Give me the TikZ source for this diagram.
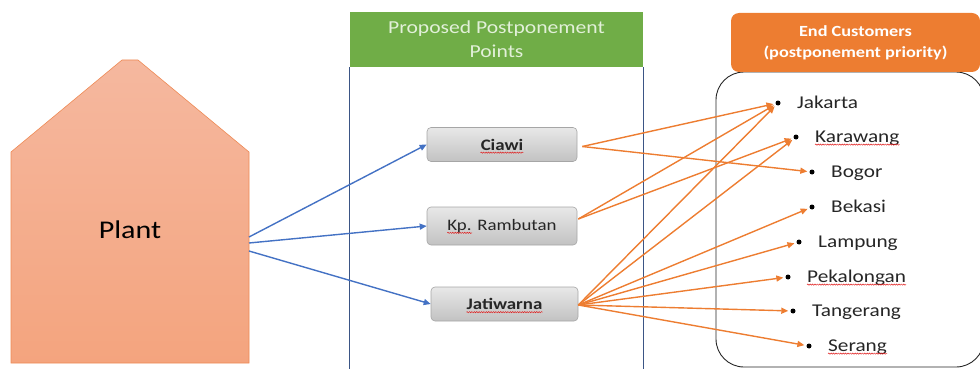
\documentclass[tikz,border=0pt]{standalone}
\usepackage{fontspec}
\setmainfont{Carlito}[FakeStretch=1.18]
\usetikzlibrary{positioning,arrows.meta,calc,decorations.pathmorphing}
\definecolor{plantTop}{HTML}{F5B89F}
\definecolor{plantBot}{HTML}{F4A47E}
\definecolor{plantLine}{HTML}{EE8A55}
\definecolor{greenHead}{HTML}{70AD47}
\definecolor{greenText}{HTML}{E2F0D9}
\definecolor{warm}{HTML}{ED7D31}
\definecolor{accent}{HTML}{4472C4}
\definecolor{hubTop}{HTML}{E8E8E8}
\definecolor{hubBot}{HTML}{C2C2C2}
\definecolor{hubLine}{HTML}{A6A6A6}
\definecolor{colLine}{HTML}{3B5585}
\definecolor{ink}{HTML}{262626}
\definecolor{spellred}{HTML}{E02020}
\tikzset{
  plantshape/.style={draw=plantLine, line width=0.6pt, top color=plantTop, bottom color=plantBot},
  head/.style={minimum width=293pt, minimum height=55pt, inner sep=0pt, align=center},
  hub/.style={draw=hubLine, line width=0.6pt, rounded corners=4pt, top color=hubTop, bottom color=hubBot, minimum width=150pt, minimum height=34pt},
  hubtext/.style={inner sep=0pt, text=ink, font=\fontsize{16}{18}\selectfont},
  dot/.style={circle, fill=black, inner sep=0pt, minimum size=5pt},
  city/.style={anchor=base west, inner sep=0pt, text=ink, font=\fontsize{18}{20}\selectfont},
  wavy/.style={spellred, line width=0.5pt, decorate, decoration={snake, amplitude=0.6pt, segment length=2.4pt}},
  blu/.style={-{Triangle[length=7pt,width=6pt]}, line width=1.4pt, accent},
  org/.style={-{Triangle[length=7pt,width=6pt]}, line width=1.4pt, warm, shorten >=2pt}}

\begin{document}
\begin{tikzpicture}[x=1pt, y=-1pt]
\useasboundingbox (0,0) rectangle (980,369);
% plant
\draw[plantshape] (11,363) -- (11,152) -- (122,60) -- (138,60) -- (249,152) -- (249,363) -- cycle;
\node[text=black, font=\fontsize{25.5}{30}\selectfont] (plant) at (130,230) {Plant};
\coordinate (p1) at (249,237);
\coordinate (p2) at (249,243);
\coordinate (p3) at (249,251);
% postponement points
\node[head, fill=greenHead, text=greenText, font=\fontsize{18.3}{24}\selectfont] (prop) at (496.5,39.5) {Proposed Postponement\\Points};
\draw[colLine, line width=0.8pt] (prop.south west) -- ++(0,320) (prop.south east) -- ++(0,320);
\node[hub] (ciawi) at (502,144.5) {};
\node[hub, minimum height=38pt] (kp) at (502,226) {};
\node[hub, minimum width=147pt] (jati) at (504.5,304) {};
\node[hubtext] (ciawit) at (ciawi) {\textbf{Ciawi}};
\node[hubtext] (kpt) at (kp) {Kp. Rambutan};
\node[hubtext] (jatit) at (jati) {\textbf{Jatiwarna}};
% end customers
\draw[ink, line width=0.9pt, rounded corners=28pt] (716,72) rectangle (984,367);
\node[head, minimum width=249pt, minimum height=59pt, fill=warm, rounded corners=8pt, text=white, font=\bfseries\fontsize{15.5}{21}\selectfont] (endc) at (855.5,42.5) {End Customers\\(postponement priority)};
\foreach \n/\x/\y/\t in {jak/778/103/Jakarta, kar/796/137/Karawang, bog/812/172/Bogor, bek/812/207/Bekasi, lam/799/242/Lampung, pek/788/277/Pekalongan, tan/793/311/Tangerang, ser/809/346/Serang}{
  \node[dot] (\n) at (\x,\y) {};
  \node[city] (\n t) at ($(\n)+(19,5)$) {\t};
}
% spelling marks
\foreach \u in {ciawit, jatit, kart, pekt, sert}
  \draw[wavy] ($(\u.base west)+(0,2.6)$) -- ($(\u.base east)+(0,2.6)$);
\draw[wavy] ($(kpt.base west)+(0,2.6)$) -- ++(25,0);
% arrows
\draw[blu] (p1) -- (ciawi.west);
\draw[blu] (p2) -- (kp.west);
\draw[blu] (p3) -- (jati.west);
\coordinate (c0) at ($(ciawi.east)+(5,2)$);
\coordinate (k0) at ($(kp.east)+(1,-7)$);
\coordinate (j0) at ($(jati.east)+(0,1)$);
\draw[org] (c0) -- (jak);
\draw[org] (c0) -- (bog);
\draw[org] (k0) -- (jak);
\draw[org] (k0) -- (kar);
\foreach \n in {jak,kar,bek,lam,pek,tan,ser}
  \draw[org] (j0) -- (\n);
\end{tikzpicture}
\end{document}
